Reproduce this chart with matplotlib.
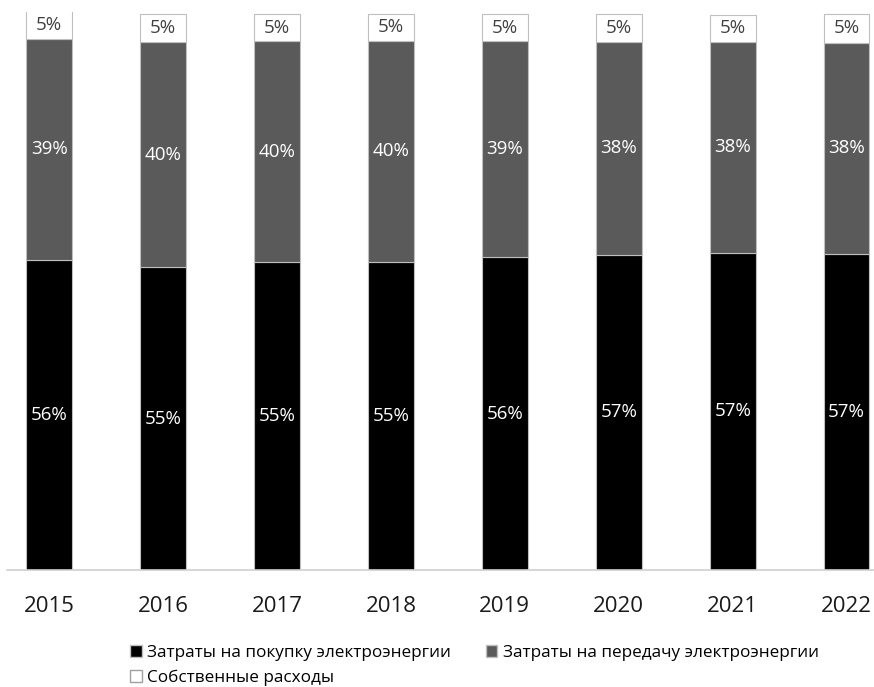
import numpy as np
import matplotlib.pyplot as plt
from matplotlib.patches import Patch

# 年份與三個成分（%），由圖上量得
years = ["2015", "2016", "2017", "2018", "2019", "2020", "2021", "2022"]
purchase = [55.8, 54.5, 55.4, 55.4, 56.3, 56.7, 57.1, 56.8]
transfer = [39.8, 40.5, 39.7, 39.8, 38.8, 38.3, 37.9, 38.1]
own = [5.3, 5.0, 5.0, 4.9, 5.0, 5.0, 4.9, 5.2]

purchase_labels = ["56%", "55%", "55%", "55%", "56%", "57%", "57%", "57%"]
transfer_labels = ["39%", "40%", "40%", "40%", "39%", "38%", "38%", "38%"]
own_labels = ["5%", "5%", "5%", "5%", "5%", "5%", "5%", "5%"]

series_names = ["Затраты на покупку электроэнергии",
                "Затраты на передачу электроэнергии",
                "Собственные расходы"]

plt.rcParams['font.family'] = ['Open Sans', 'DejaVu Sans']

fig = plt.figure(figsize=(8.74, 6.87), dpi=100)
ax = fig.add_axes([7 / 874, 117 / 687, 1 - 7 / 874, 558 / 687])

x = np.arange(len(years))
w = 0.40
edge = "#bfbfbf"
ymax = 100.4

p = np.array(purchase)
t = np.array(transfer)
o = np.array(own)

ax.bar(x, p, w, color="#000000", edgecolor=edge, linewidth=0.8)
ax.bar(x, t, w, bottom=p, color="#5a5a5a", edgecolor=edge, linewidth=0.8)
ax.bar(x, o, w, bottom=p + t, color="#ffffff", edgecolor=edge, linewidth=0.8)

# 數據標籤
for i in range(len(years)):
    ax.text(x[i], p[i] / 2, purchase_labels[i], ha='center', va='center',
            color='white', fontsize=13.5)
    ax.text(x[i], p[i] + t[i] / 2, transfer_labels[i], ha='center', va='center',
            color='white', fontsize=13.5)
    top = min(p[i] + t[i] + o[i], ymax)
    ax.text(x[i], (p[i] + t[i] + top) / 2, own_labels[i], ha='center', va='center',
            color='#404040', fontsize=13.5)

ax.set_xlim(-0.37, 7.24)
ax.set_ylim(0, ymax)
ax.set_xticks(x)
ax.set_xticklabels(years, fontsize=16, color='#1a1a1a')
ax.tick_params(axis='x', length=0, pad=19)
ax.set_yticks([])
for s in ['top', 'right', 'left']:
    ax.spines[s].set_visible(False)
ax.spines['bottom'].set_color('#d0d0d0')
ax.spines['bottom'].set_linewidth(1.2)

# 圖例：第一列兩項，第二列一項
handles = [Patch(facecolor="#000000", edgecolor=edge),
           Patch(facecolor="#ffffff", edgecolor="#a0a0a0"),
           Patch(facecolor="#5a5a5a", edgecolor=edge)]
names = [series_names[0], series_names[2], series_names[1]]
fig.legend(handles, names, loc='upper left',
           bbox_to_anchor=(121 / 874, 1 - 636 / 687), ncol=2, frameon=False,
           handlelength=0.7, handleheight=0.7, handletextpad=0.35,
           columnspacing=2.0, labelspacing=0.55, borderpad=0,
           prop={'size': 12.3})

fig.savefig("out.png", dpi=100)
